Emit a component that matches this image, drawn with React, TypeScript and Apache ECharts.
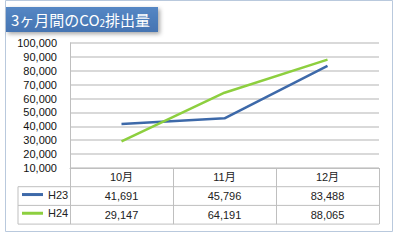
import React, { useEffect, useRef } from 'react';
import * as echarts from 'echarts';

const categories = ['10月', '11月', '12月'];
const seriesNames = ['H23', 'H24'];
const h23Values = [41691, 45796, 83488];
const h24Values = [29147, 64191, 88065];
const seriesColors = ['#3D69A9', '#8DCF3F'];
const yMin = 10000;
const yMax = 100000;
const yInterval = 10000;
const titleText = '3ヶ月間のCO{sub|2}排出量';

const FONT = '"Liberation Sans", "Noto Sans CJK JP", sans-serif';
const TITLE_FONT = '"Noto Sans CJK JP", "Liberation Sans", sans-serif';

const fmt = (v: number) => v.toLocaleString('en-US');

export default function App() {
  const ref = useRef<HTMLDivElement>(null);
  useEffect(() => {
    const chart = echarts.init(ref.current!, null, { renderer: 'svg' });
    const values = [h23Values, h24Values];
    const gridLeft = 70;
    const gridRight = 16;
    const axisY = 168;
    const rowH = 18.7;
    const tableLeft = 18;
    const tableRight = 395 - gridRight;
    const rowLines = [axisY + rowH, axisY + 2 * rowH, axisY + 3 * rowH];
    const rowCenters = [axisY + 1.5 * rowH, axisY + 2.5 * rowH];

    chart.setOption({
      animation: false,
      backgroundColor: '#ffffff',
      grid: { left: gridLeft, right: gridRight, top: 43, bottom: 240 - axisY },
      xAxis: {
        type: 'category',
        data: categories,
        boundaryGap: true,
        axisLine: { show: true, lineStyle: { color: '#BFBFBF', width: 1 } },
        axisTick: {
          show: true,
          length: 3 * rowH,
          interval: 0,
          lineStyle: { color: '#BFBFBF', width: 1 },
        },
        axisLabel: {
          interval: 0,
          margin: 0,
          fontSize: 11,
          lineHeight: rowH,
          color: '#222222',
          fontFamily: FONT,
          formatter: (v: string, i: number) =>
            [v, ...values.map((s) => fmt(s[i]))].join('\n'),
        },
      },
      yAxis: {
        type: 'value',
        min: yMin,
        max: yMax,
        interval: yInterval,
        axisLine: { show: true, lineStyle: { color: '#BFBFBF', width: 1 } },
        axisTick: { show: false },
        splitLine: { show: true, lineStyle: { color: '#CCCCCC', width: 1.5 } },
        axisLabel: {
          margin: 13,
          fontSize: 11,
          color: '#111111',
          fontFamily: FONT,
          formatter: (v: number) => fmt(v),
        },
      },
      legend: seriesNames.map((n, i) => ({
        data: [n],
        orient: 'horizontal',
        left: 22,
        top: rowCenters[i] - 7,
        padding: 0,
        itemWidth: 21,
        itemHeight: 3,
        icon: 'rect',
        selectedMode: false,
        textStyle: { fontSize: 11, color: '#222222', fontFamily: FONT },
      })),
      series: seriesNames.map((n, i) => ({
        name: n,
        type: 'line',
        data: values[i],
        showSymbol: false,
        symbol: 'none',
        itemStyle: { color: seriesColors[i] },
        lineStyle: { color: seriesColors[i], width: 2.5 },
      })),
      graphic: [
        {
          type: 'rect',
          shape: { x: 5.5, y: 0.5, width: 387, height: 231 },
          style: { fill: 'none', stroke: '#B9C9DD', lineWidth: 1 },
          silent: true,
        },
        {
          type: 'rect',
          shape: { x: 6, y: 7, width: 152, height: 25 },
          style: {
            fill: new echarts.graphic.LinearGradient(0, 0, 0, 1, [
              { offset: 0, color: '#5587C4' },
              { offset: 1, color: '#4574B2' },
            ]),
            shadowBlur: 4,
            shadowOffsetX: 2,
            shadowOffsetY: 2,
            shadowColor: 'rgba(0,0,0,0.35)',
          },
          silent: true,
        },
        {
          type: 'text',
          x: 11,
          y: 19.5,
          style: {
            text: titleText,
            fill: '#ffffff',
            fontSize: 15,
            fontFamily: TITLE_FONT,
            verticalAlign: 'middle',
            rich: {
              sub: { fontSize: 10, fill: '#ffffff', fontFamily: TITLE_FONT, verticalAlign: 'bottom', padding: [4, 0, 0, 0] },
            },
          },
          silent: true,
        },
        ...rowLines.map((y) => ({
          type: 'line',
          shape: { x1: tableLeft, y1: y, x2: tableRight, y2: y },
          style: { stroke: '#BFBFBF', lineWidth: 1 },
          silent: true,
        })),
        {
          type: 'line',
          shape: { x1: tableLeft, y1: rowLines[0], x2: tableLeft, y2: rowLines[2] },
          style: { stroke: '#BFBFBF', lineWidth: 1 },
          silent: true,
        },
      ],
    });
    return () => chart.dispose();
  }, []);
  return (
    <div
      ref={ref}
      style={{ position: 'absolute', left: 0, top: 0, width: 395, height: 240, background: '#fff' }}
    />
  );
}
